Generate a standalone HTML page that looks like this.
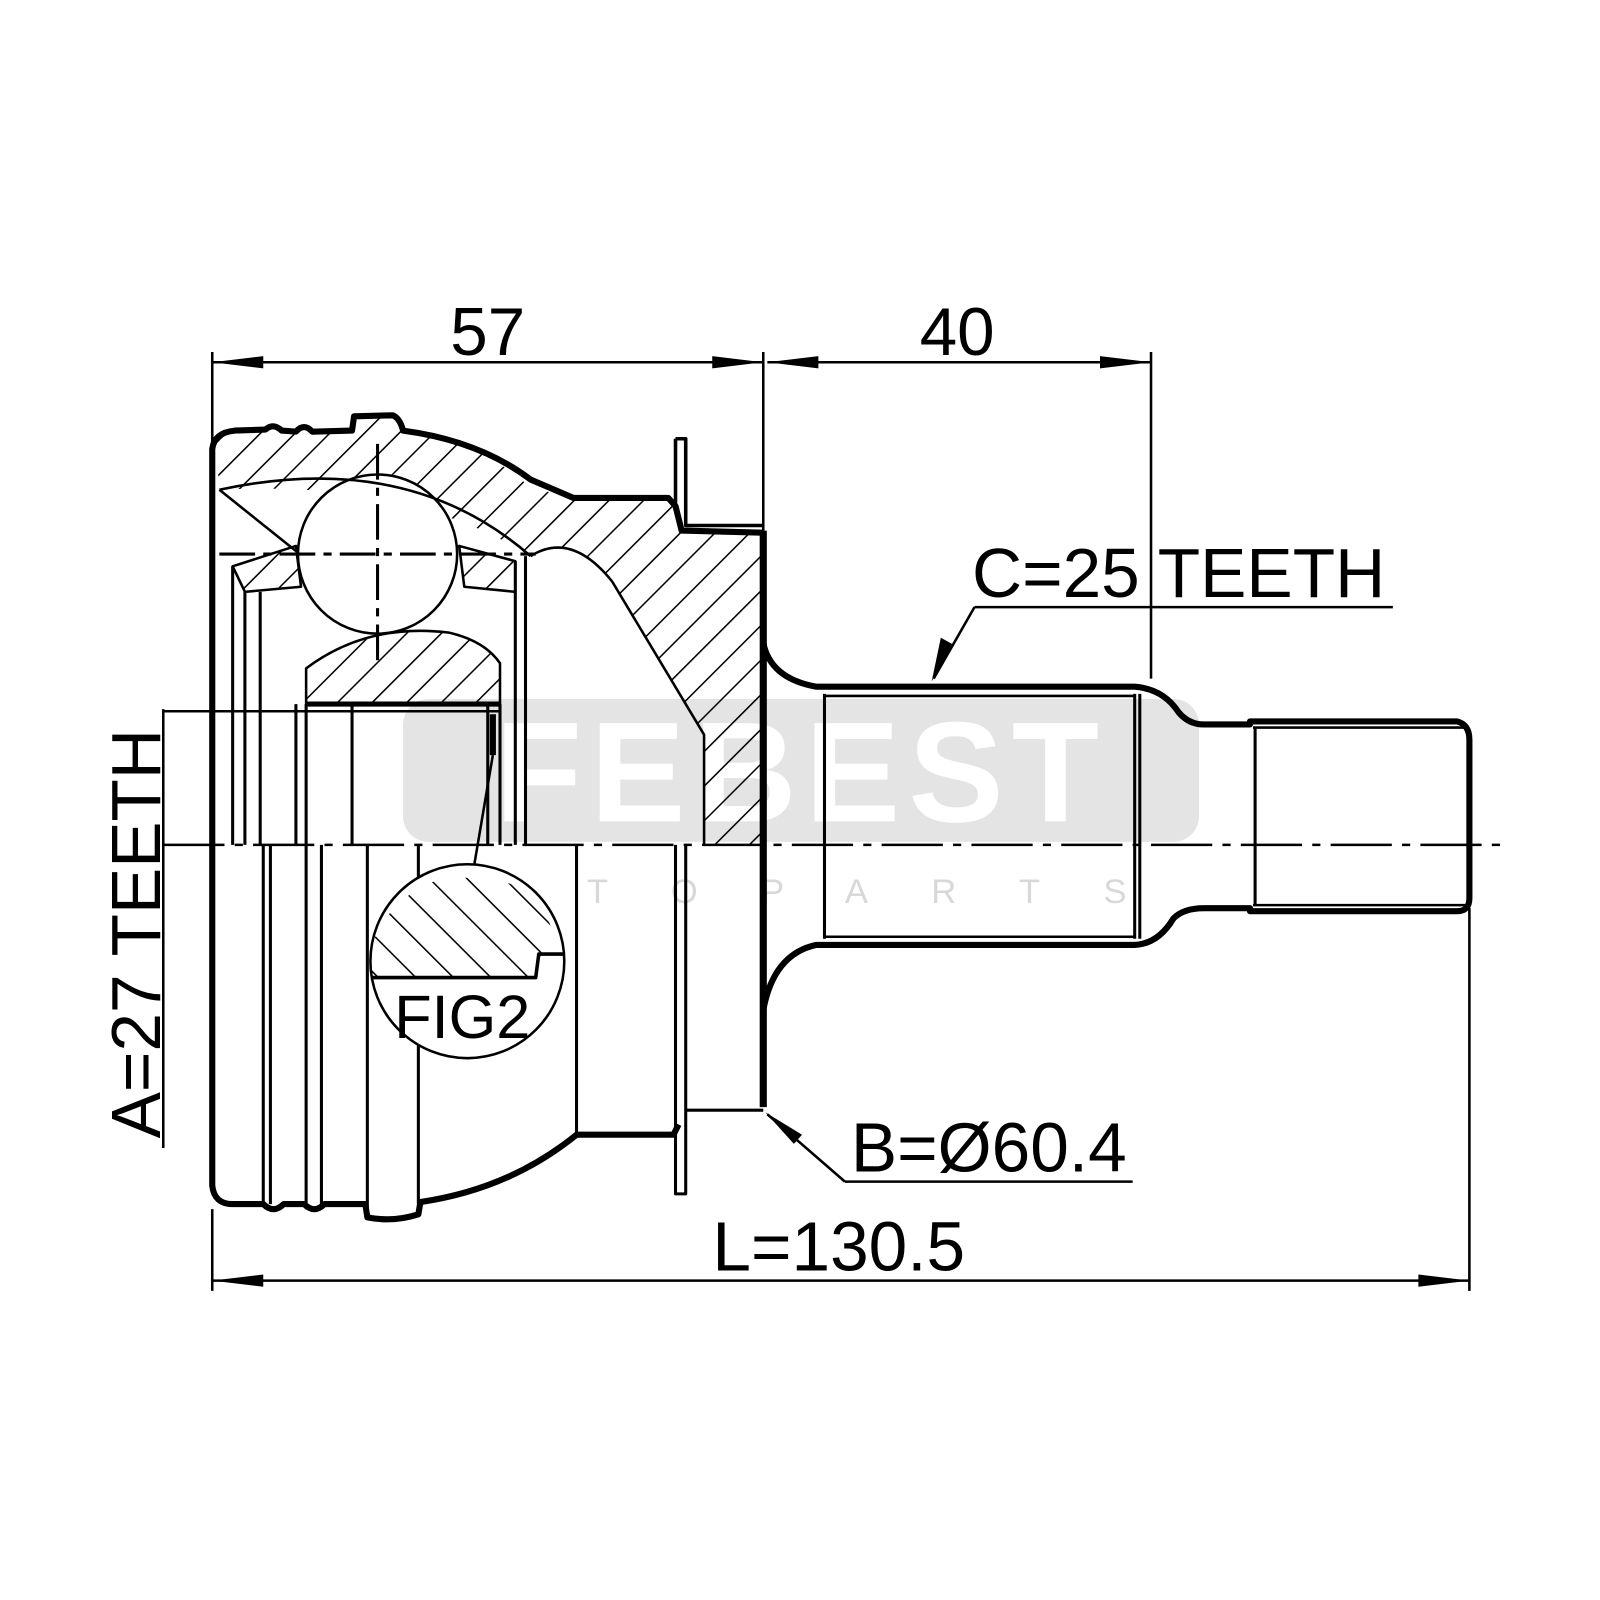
<!DOCTYPE html>
<html><head><meta charset="utf-8"><style>html,body{margin:0;padding:0;background:#fff}svg{display:block}</style></head>
<body>
<svg width="1600" height="1600" viewBox="0 0 1568 1568" xmlns="http://www.w3.org/2000/svg" font-family="Liberation Sans, sans-serif">
<defs>
<pattern id="h" width="24" height="24" patternUnits="userSpaceOnUse" patternTransform="rotate(45)">
<line x1="0" y1="0" x2="0" y2="24" stroke="#000" stroke-width="3"/>
</pattern>
<pattern id="h2" width="26" height="26" patternUnits="userSpaceOnUse" patternTransform="rotate(-45)">
<line x1="0" y1="0" x2="0" y2="26" stroke="#000" stroke-width="3"/>
</pattern>
</defs>
<rect width="1568" height="1568" fill="#fff"/>
<!-- watermark -->
<rect x="395" y="685" width="780" height="140" rx="25" fill="#e4e4e4"/>
<text x="785" y="805" font-size="140" font-weight="bold" fill="#fff" text-anchor="middle" letter-spacing="8">FEBEST</text>
<text x="785" y="885" font-size="34" fill="#d8d8d8" text-anchor="middle" letter-spacing="62">AUTOPARTS</text>

<g fill="none" stroke="#000" stroke-linejoin="round">
<!-- hatched sections -->
<path d="M212,440 Q212,424 230,422 L260,421 Q268,414 276,422 L290,423 Q298,414 306,423 L345,422 L347,408 L385,407 L392,422 Q470,432 520,478 L562,488 L655,488 L662,496 L668,520 L748,522 L748,828 L690,828 L690,720 L600,570 Q560,520 520,545 Q400,470 215,480 Z" fill="url(#h)" stroke="none"/>
<path d="M228,555 L290,535 L295,575 L240,580 Z" fill="url(#h)" stroke="#000" stroke-width="2.5"/>
<path d="M450,535 L505,550 L505,580 L455,575 Z" fill="url(#h)" stroke="#000" stroke-width="2.5"/>
<path d="M300,655 Q360,610 440,620 Q475,628 490,650 L490,690 L300,690 Z" fill="url(#h)" stroke="#000" stroke-width="2.5"/>
<circle cx="370" cy="543" r="78" fill="#fff" stroke="#000" stroke-width="2.5"/>
<!-- outer profile top -->
<path d="M208,828 L208,440 Q210,424 230,422 L260,421 Q268,414 276,422 L290,423 Q298,414 306,423 L345,422 L347,408 L385,407 Q392,410 395,422 Q470,432 520,470 L562,488 L655,488 L662,496 L668,520 L748,522" stroke-width="6"/>
<path d="M215,480 Q400,440 520,545" stroke-width="2.5"/>
<path d="M215,480 L290,540" stroke-width="2.5"/>
<path d="M520,545 Q560,520 600,570 L690,720 L690,828" stroke-width="2.5"/>
<path d="M662,430 L672,430 L672,515 L748,515" stroke-width="3.5"/>
<line x1="662" y1="430" x2="662" y2="500" stroke-width="3.5"/>
<!-- upper verticals -->
<path d="M228,828 L228,555 M240,828 L240,580 M255,828 L255,580 M290,828 L290,690 M300,690 L300,828 M345,690 L345,828 M478,690 L478,828 M490,690 L490,828 M505,550 L505,828 M515,545 L515,828" stroke-width="3"/>
<path d="M300,690 L490,690" stroke-width="5"/>
<path d="M160,697 L490,697" stroke-width="2.5"/>
<path d="M483,700 L483,740" stroke-width="6"/>
<path d="M483,740 L463,858" stroke-width="2.5"/>
<!-- right face -->
<path d="M748,520 L748,1085" stroke-width="7"/>
<!-- lower housing -->
<path d="M208,828 L208,1162 Q210,1180 228,1180 L258,1180 Q268,1190 278,1180 L298,1180 Q308,1190 318,1180 L358,1180 L360,1193 Q385,1198 410,1190 L412,1178 Q500,1165 565,1112 L660,1112 L665,1102" stroke-width="6"/>
<path d="M258,828 V1180 M265,828 V1180 M300,828 V1180 M315,828 V1180 M360,828 V1193 M410,828 V1180 M565,828 V1112" stroke-width="3"/>
<path d="M662,828 V1170 H672 V828" stroke-width="3"/>
<path d="M672,1088 H748" stroke-width="3"/>
<!-- FIG2 -->
<circle cx="458" cy="942" r="95" fill="#fff" stroke-width="2.5"/>
<path d="M364,958 L363,930 Q380,880 430,862 Q480,855 525,875 L550,930 L528,935 L525,958 Z" fill="url(#h2)" stroke="none"/>
<path d="M364,958 L525,958 L528,935 L553,935" stroke-width="3.5"/>
<!-- shaft -->
<path d="M748,630 Q755,665 800,673 L1112,673 Q1140,675 1155,698 Q1165,710 1180,710 L1225,710 L1225,707 L1428,707 Q1440,710 1440,725 L1440,880 Q1440,893 1428,893 L1225,893 L1225,890 L1180,890 Q1160,890 1150,900 Q1135,925 1112,926 L800,926 Q758,935 748,990" stroke-width="6"/>
<path d="M808,680 V920 M1112,680 V920 M1117,680 V920 M1230,712 V888" stroke-width="3"/>
<path d="M808,682 H1112 M808,918 H1112 M1228,713 H1438 M1228,887 H1438" stroke-width="2.5"/>
<!-- centerline -->
<line x1="160" y1="828" x2="1470" y2="828" stroke-width="2.5" stroke-dasharray="60,10,8,10"/>
<line x1="215" y1="543" x2="525" y2="543" stroke-width="3" stroke-dasharray="35,8,8,8"/>
<line x1="370" y1="435" x2="370" y2="650" stroke-width="3" stroke-dasharray="35,8,8,8"/>
<!-- dimensions -->
<path d="M208,345 V440 M748,345 V520 M1128,345 V665 M208,1185 V1265 M1440,890 V1265 M160,695 V1125" stroke-width="2.5"/>
<path d="M208,355 H748 M752,355 H1128 M208,1255 H1440" stroke-width="2.5"/>
<path d="M955,595 H1365 M955,595 L915,665 M828,1158 H1110 M828,1158 L752,1092" stroke-width="2.5"/>
</g>
<g fill="#000">
<path d="M208,355 L258,349 L258,361 Z"/><path d="M748,355 L698,349 L698,361 Z"/>
<path d="M752,355 L802,349 L802,361 Z"/><path d="M1128,355 L1078,349 L1078,361 Z"/>
<path d="M208,1255 L258,1249 L258,1261 Z"/><path d="M1440,1255 L1390,1249 L1390,1261 Z"/>
<path d="M913,668 L922,625 L933,631 Z"/>
<path d="M750,1090 L786,1112 L778,1121 Z"/>
</g>
<g font-size="66" fill="#000">
<text x="478" y="348" text-anchor="middle">57</text>
<text x="938" y="348" text-anchor="middle">40</text>
<text x="1155" y="585" text-anchor="middle" font-size="68">C=25 TEETH</text>
<text x="969" y="1148" text-anchor="middle" font-size="68">B=Ø60.4</text>
<text x="822" y="1245" text-anchor="middle" font-size="68">L=130.5</text>
<text x="453" y="1017" text-anchor="middle" font-size="60">FIG2</text>
<text transform="translate(157,915) rotate(-90)" text-anchor="middle" font-size="68">A=27 TEETH</text>
</g>
</svg>
</body></html>
